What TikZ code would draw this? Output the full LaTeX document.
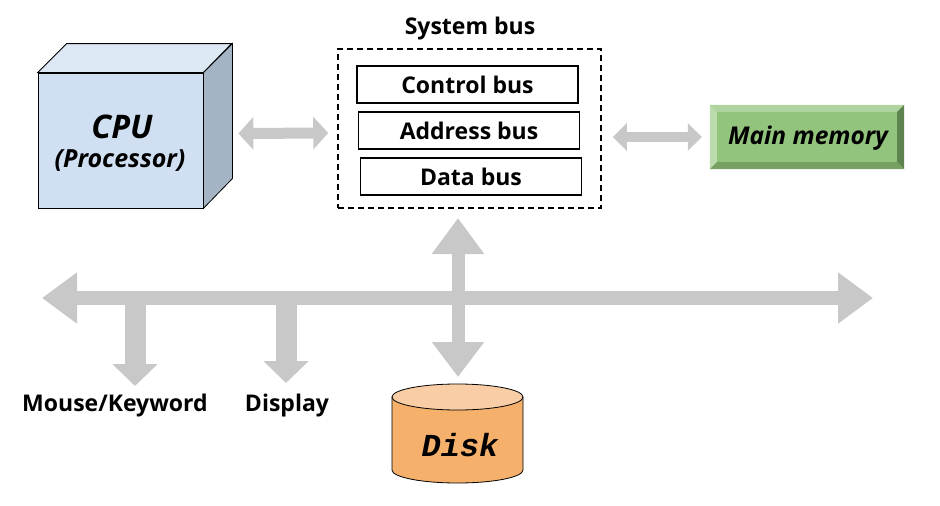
\documentclass[tikz,border=0pt]{standalone}
\usepackage{fontspec}
\setmainfont{Open Sans}
\newfontfamily\monof{Liberation Mono}
\usetikzlibrary{arrows.meta,calc}
\definecolor{cpufront}{HTML}{D0E0F2}
\definecolor{cputop}{HTML}{DDE8F5}
\definecolor{cpuside}{HTML}{A5B4C5}
\definecolor{memface}{HTML}{93C47D}
\definecolor{memtop}{HTML}{B0D49F}
\definecolor{memleft}{HTML}{BCDBAD}
\definecolor{memright}{HTML}{5F8350}
\definecolor{membot}{HTML}{76A163}
\definecolor{diskbody}{HTML}{F5B06C}
\definecolor{disktop}{HTML}{F9CEA6}
\definecolor{busgray}{HTML}{C8C8C8}
\tikzset{
  lbl/.style={font=\fontsize{23}{26}\selectfont\bfseries, inner sep=0pt},
  busbox/.style={draw, line width=1.5pt, minimum width=221pt, minimum height=37pt, inner sep=0pt, font=\fontsize{23}{26}\selectfont\bfseries},
  blockarrow/.style={draw=busgray, line width=#1},
}
\begin{document}
\begin{tikzpicture}[x=1pt,y=-1pt]
\useasboundingbox (0,0) rectangle (940,506);

% CPU cube
\node[fill=cpufront, draw, line width=0.8pt, minimum width=165pt, minimum height=135pt, inner sep=0pt] (cpu) at (120.5,140.5) {};
\filldraw[fill=cputop, line width=0.8pt] (cpu.north west) -- ++(29,-29) -- ++(165,0) -- (cpu.north east) -- cycle;
\filldraw[fill=cpuside, line width=0.8pt] (cpu.north east) -- ++(29,-29) -- ++(0,135) -- (cpu.south east) -- cycle;
\node[font=\fontsize{32.5}{36}\selectfont\bfseries\itshape, inner sep=0pt] (cputext) at (122,127) {CPU};
\node[font=\fontsize{25}{28}\selectfont\bfseries\itshape, inner sep=0pt] (proctext) at (120,161) {(Processor)};

% System bus
\node[draw, dashed, dash pattern=on 6pt off 4pt, line width=1.5pt, minimum width=263pt, minimum height=159pt, inner sep=0pt] (sysbus) at (469.5,128.5) {};
\node[lbl] (syslbl) at (470,29) {System bus};
\node[busbox] (ctrl) at (467.5,84.5) {Control bus};
\node[busbox] (addr) at (469,130.5) {Address bus};
\node[busbox] (data) at (471,176.5) {Data bus};

% Main memory
\node[fill=memface, minimum width=194pt, minimum height=64pt, inner sep=0pt] (mem) at (807,137) {};
\fill[memtop] (mem.north west) -- (mem.north east) -- ++(-7,7) -- ($(mem.north west)+(7,7)$) -- cycle;
\fill[memleft] (mem.north west) -- (mem.south west) -- ++(7,-7) -- ($(mem.north west)+(7,7)$) -- cycle;
\fill[memright] (mem.north east) -- (mem.south east) -- ++(-7,-7) -- ($(mem.north east)+(-7,7)$) -- cycle;
\fill[membot] (mem.south west) -- (mem.south east) -- ++(-7,-7) -- ($(mem.south west)+(7,-7)$) -- cycle;
\node[font=\fontsize{24.5}{28}\selectfont\bfseries\itshape, inner sep=0pt] (memtext) at (808,138) {Main memory};

% Disk
\node[minimum width=131pt, minimum height=86pt, inner sep=0pt] (disk) at (457.5,440) {};
\filldraw[fill=diskbody, line width=0.8pt] (392,397) -- (392,470) arc[start angle=180, end angle=360, x radius=65.5pt, y radius=13pt] -- (523,397) -- cycle;
\filldraw[fill=disktop, line width=0.8pt] (457.5,397) ellipse[x radius=65.5pt, y radius=13pt];
\node[font=\fontsize{32}{34}\selectfont\monof\bfseries\itshape, inner sep=0pt] (disktext) at (460,445) {Disk};

% Labels
\node[lbl] (mouse) at (115,406) {Mouse/Keyword};
\node[lbl] (display) at (287,406) {Display};

% Coordinates for bus connectors
\coordinate (busL) at (42,298);
\coordinate (busR) at (873,298);
\coordinate (mtap) at (135,298);
\coordinate (mend) at (135,386);
\coordinate (dtap) at (286,298);
\coordinate (dend) at (286,383);
\coordinate (vtop) at (458,218);
\coordinate (vbot) at (458,377);

% Block arrows
\draw[blockarrow=11pt, {Triangle[width=32pt,length=15pt]}-{Triangle[width=32pt,length=15pt]}, busgray]
  ($(cpu.east)+(35,-7)$) -- ($(sysbus.west)+(-9,4.5)$);
\draw[blockarrow=10pt, {Triangle[width=27pt,length=14pt]}-{Triangle[width=27pt,length=14pt]}, busgray]
  ($(sysbus.east)+(11,8.5)$) -- ($(mem.west)+(-8,0)$);
\draw[blockarrow=14pt, {Triangle[width=49pt,length=35pt]}-{Triangle[width=49pt,length=35pt]}, busgray] (busL) -- (busR);
\draw[blockarrow=13pt, {Triangle[width=50pt,length=36pt]}-{Triangle[width=50pt,length=35pt]}, busgray] (vtop) -- (vbot);
\draw[blockarrow=21pt, -{Triangle[width=44pt,length=22pt]}, busgray] (mtap) -- (mend);
\draw[blockarrow=21pt, -{Triangle[width=44pt,length=22pt]}, busgray] (dtap) -- (dend);
\end{tikzpicture}
\end{document}
